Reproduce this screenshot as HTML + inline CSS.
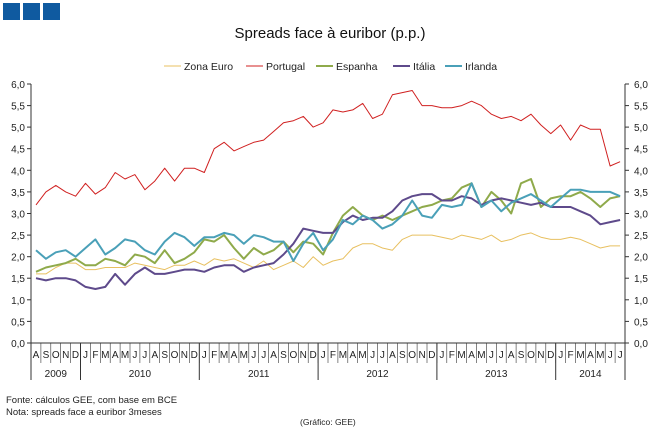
<!DOCTYPE html>
<html><head><meta charset="utf-8"><style>
body{margin:0;background:#fff;width:658px;height:430px;overflow:hidden;font-family:"Liberation Sans",sans-serif}
svg text{font-family:"Liberation Sans",sans-serif}
</style></head><body>
<svg id="s" width="658" height="430" xmlns="http://www.w3.org/2000/svg">
<rect x="3" y="3" width="17" height="17" fill="#0f5aa0"/>
<rect x="23" y="3" width="17" height="17" fill="#0f5aa0"/>
<rect x="43" y="3" width="17" height="17" fill="#0f5aa0"/>
<text x="330" y="38" font-size="15" text-anchor="middle" fill="#111">Spreads face à euribor (p.p.)</text>
<g font-size="10.5" fill="#222">
<line x1="164" y1="66" x2="181" y2="66" stroke="#e8c060"/><text x="184" y="70">Zona Euro</text>
<line x1="246" y1="66" x2="263" y2="66" stroke="#d02020"/><text x="266" y="70">Portugal</text>
<line x1="316" y1="66" x2="333" y2="66" stroke="#8faa4b" stroke-width="2"/><text x="336" y="70">Espanha</text>
<line x1="393" y1="66" x2="410" y2="66" stroke="#5e4a8b" stroke-width="2"/><text x="413" y="70">Itália</text>
<line x1="445" y1="66" x2="462" y2="66" stroke="#4aa0b8" stroke-width="2"/><text x="465" y="70">Irlanda</text>
</g>
<g id="g"></g>
<text x="6" y="403" font-size="9.5" fill="#222">Fonte: cálculos GEE, com base em BCE</text>
<text x="6" y="415" font-size="9.5" fill="#222">Nota: spreads face a euribor 3meses</text>
<text x="300" y="425" font-size="8.5" fill="#222">(Gráfico: GEE)</text>
</svg>
<script>
var g=document.getElementById('g'),h='';
var X0=31,X1=625,W=9.9,Y0=343,K=43.17;
function y(v){return Y0-v*K}
for(var i=0;i<=12;i++){var v=i*0.5,yy=y(v).toFixed(1),t=v.toFixed(1).replace('.',',');
h+='<line x1="27" y1="'+yy+'" x2="31" y2="'+yy+'" stroke="#333"/><line x1="625" y1="'+yy+'" x2="629" y2="'+yy+'" stroke="#333"/>';
h+='<text x="25" y="'+(+yy+4)+'" font-size="10" text-anchor="end" fill="#222">'+t+'</text><text x="634" y="'+(+yy+4)+'" font-size="10" fill="#222">'+t+'</text>';}
h+='<line x1="31" y1="84" x2="31" y2="380" stroke="#333"/><line x1="625" y1="84" x2="625" y2="380" stroke="#333"/><line x1="31" y1="343" x2="625" y2="343" stroke="#333"/>';
var m='ASONDJFMAMJJASONDJFMAMJJASONDJFMAMJJASONDJFMAMJJASONDJFMAMJJ';
for(var i=0;i<60;i++){var x=X0+W*i;
if(i>0)h+='<line x1="'+x.toFixed(1)+'" y1="343" x2="'+x.toFixed(1)+'" y2="363" stroke="#333" stroke-width="0.6"/>';
h+='<text x="'+(x+W/2).toFixed(1)+'" y="358" font-size="10" text-anchor="middle" fill="#222">'+m[i]+'</text>';}
[5,17,29,41,53].forEach(function(i){var x=(X0+W*i).toFixed(1);h+='<line x1="'+x+'" y1="343" x2="'+x+'" y2="380" stroke="#333"/>';});
[[0,5,'2009'],[5,17,'2010'],[17,29,'2011'],[29,41,'2012'],[41,53,'2013'],[53,60,'2014']].forEach(function(a){
h+='<text x="'+(X0+W*(a[0]+a[1])/2).toFixed(1)+'" y="377" font-size="10" text-anchor="middle" fill="#222">'+a[2]+'</text>';});
var S=[
['#e8c060',1,[1.6,1.6,1.75,1.85,1.85,1.7,1.7,1.75,1.75,1.75,1.85,1.8,1.75,1.7,1.8,1.8,1.9,1.8,1.95,1.9,1.95,1.85,1.75,1.9,1.7,1.8,1.9,1.75,2.0,1.8,1.9,1.95,2.2,2.3,2.3,2.2,2.15,2.4,2.5,2.5,2.5,2.45,2.4,2.5,2.45,2.4,2.5,2.35,2.4,2.5,2.55,2.45,2.4,2.4,2.45,2.4,2.3,2.2,2.25,2.25]],
['#d02020',1,[3.2,3.5,3.65,3.5,3.4,3.7,3.45,3.6,3.95,3.8,3.9,3.55,3.75,4.05,3.75,4.05,4.05,3.95,4.5,4.65,4.45,4.55,4.65,4.7,4.9,5.1,5.15,5.25,5.0,5.1,5.4,5.35,5.4,5.55,5.2,5.3,5.75,5.8,5.85,5.5,5.5,5.45,5.45,5.5,5.6,5.5,5.3,5.2,5.25,5.15,5.3,5.05,4.85,5.05,4.7,5.05,4.95,4.95,4.1,4.2]],
['#8faa4b',2,[1.65,1.75,1.8,1.85,1.95,1.8,1.8,1.95,1.9,1.8,2.05,2.0,1.85,2.15,1.85,1.95,2.1,2.4,2.35,2.5,2.2,1.95,2.2,2.05,2.15,2.35,2.1,2.35,2.3,2.05,2.55,2.95,3.15,2.95,2.85,2.95,2.85,2.95,3.05,3.15,3.2,3.3,3.35,3.6,3.7,3.15,3.5,3.3,3.0,3.7,3.8,3.15,3.35,3.4,3.4,3.5,3.35,3.15,3.35,3.4]],
['#5e4a8b',2,[1.5,1.45,1.5,1.5,1.45,1.3,1.25,1.3,1.6,1.35,1.6,1.75,1.6,1.6,1.65,1.7,1.7,1.65,1.75,1.8,1.8,1.65,1.75,1.8,1.85,2.05,2.3,2.65,2.6,2.55,2.55,2.8,2.95,2.85,2.9,2.9,3.05,3.3,3.4,3.45,3.45,3.3,3.3,3.4,3.35,3.2,3.3,3.35,3.3,3.25,3.2,3.25,3.15,3.15,3.15,3.05,2.95,2.75,2.8,2.85]],
['#4aa0b8',2,[2.15,1.95,2.1,2.15,2.0,2.2,2.4,2.05,2.2,2.4,2.35,2.15,2.05,2.35,2.55,2.45,2.25,2.45,2.45,2.55,2.5,2.3,2.5,2.45,2.35,2.35,1.9,2.3,2.55,2.15,2.4,2.85,2.75,2.95,2.85,2.65,2.75,2.95,3.3,2.95,2.9,3.2,3.15,3.2,3.7,3.15,3.3,3.05,3.25,3.35,3.45,3.3,3.15,3.35,3.55,3.55,3.5,3.5,3.5,3.4]]];
S.forEach(function(s){var p=s[2].map(function(v,i){return (X0+W*(i+0.5)).toFixed(1)+','+y(v).toFixed(1)}).join(' ');
h+='<polyline points="'+p+'" fill="none" stroke="'+s[0]+'" stroke-width="'+s[1]+'" stroke-linejoin="round"/>';});
g.innerHTML=h;
</script>
</body></html>
